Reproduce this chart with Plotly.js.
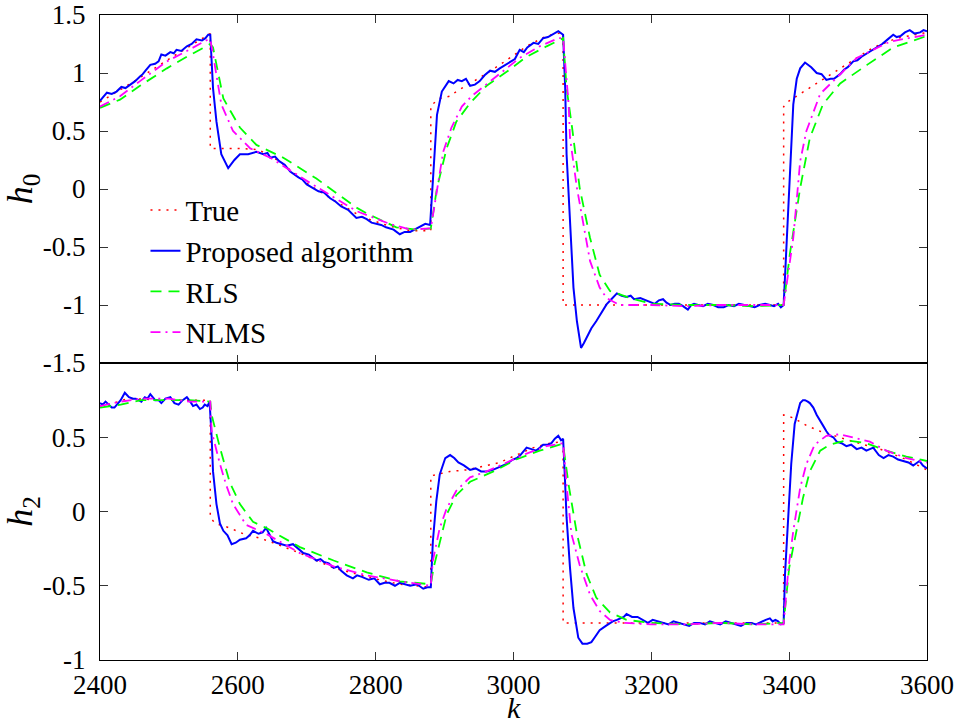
<!DOCTYPE html>
<html>
<head>
<meta charset="utf-8">
<script src="https://cdn.plot.ly/plotly-3.0.1.min.js"></script>
<style>html,body{margin:0;padding:0;background:#fff;}#chart{width:960px;height:727px;}</style>
</head>
<body>
<div id="chart"></div>
<script>
// ---------- h0 (top panel) ----------
const kTrue0 = [2400,2450,2500,2530,2560,2560,2600,2630,2660,2700,2740,2780,2820,2850,2880,2880,2893,2908,2917,2951,2980,3019,3048,3072,3072,3392,3392,3400,3445,3474,3522,3556,3600];
const hTrue0 = [0.75,0.93,1.12,1.23,1.34,0.35,0.35,0.34,0.24,0.05,-0.10,-0.24,-0.32,-0.36,-0.36,0.72,0.78,0.80,0.84,0.96,1.07,1.23,1.32,1.35,-1.0,-1.0,0.71,0.76,0.93,1.04,1.22,1.30,1.35];

const kProp0 = [2400,2405,2410,2417,2424,2431,2437,2444,2451,2458,2462,2466,2473,2480,2485,2489,2495,2502,2507,2511,2518,2526,2533,2540,2548,2553,2557,2560,2564,2569,2576,2586,2595,2603,2615,2627,2632,2637,2643,2647,2654,2660,2668,2676,2688,2694,2700,2708,2717,2725,2734,2742,2750,2760,2772,2780,2787,2794,2800,2808,2815,2826,2835,2842,2850,2857,2864,2872,2879,2884,2889,2896,2906,2913,2919,2925,2931,2937,2944,2951,2958,2966,2973,2980,2988,2995,3002,3009,3015,3020,3029,3036,3043,3050,3058,3065,3072,3075,3077,3082,3087,3092,3098,3102,3106,3113,3120,3128,3135,3142,3150,3157,3164,3170,3175,3184,3193,3199,3205,3211,3217,3222,3228,3234,3240,3246,3253,3258,3262,3268,3275,3282,3290,3297,3305,3312,3320,3327,3335,3342,3350,3357,3365,3372,3378,3384,3388,3392,3396,3401,3406,3411,3416,3423,3428,3432,3440,3447,3454,3460,3465,3470,3474,3480,3485,3493,3499,3505,3513,3522,3528,3535,3543,3551,3556,3562,3568,3575,3582,3590,3595,3600];
const hProp0 = [0.76,0.80,0.83,0.82,0.84,0.88,0.87,0.90,0.93,0.97,0.99,1.02,1.07,1.08,1.10,1.16,1.15,1.18,1.17,1.20,1.19,1.23,1.25,1.29,1.28,1.30,1.33,1.33,0.87,0.58,0.30,0.18,0.25,0.30,0.30,0.32,0.31,0.30,0.31,0.27,0.28,0.24,0.21,0.15,0.10,0.08,0.04,0.01,-0.02,-0.03,-0.08,-0.11,-0.15,-0.18,-0.25,-0.24,-0.26,-0.29,-0.30,-0.31,-0.33,-0.35,-0.39,-0.37,-0.37,-0.35,-0.33,-0.30,-0.31,0.21,0.64,0.84,0.93,0.91,0.94,0.93,0.95,0.89,0.90,0.93,0.98,1.02,1.01,1.04,1.07,1.10,1.12,1.20,1.18,1.22,1.26,1.25,1.30,1.31,1.34,1.36,1.33,0.87,0.30,-0.28,-0.85,-1.14,-1.37,-1.33,-1.28,-1.20,-1.14,-1.06,-0.995,-0.95,-0.90,-0.92,-0.93,-0.92,-0.95,-0.94,-0.96,-0.98,-0.99,-0.96,-0.95,-0.98,-1.00,-0.99,-0.99,-1.01,-1.04,-1.00,-0.99,-1.00,-1.01,-0.99,-1.00,-1.02,-1.02,-1.00,-1.01,-0.99,-1.00,-1.01,-1.02,-1.00,-0.99,-1.00,-1.01,-0.99,-1.02,-1.00,-0.50,0.01,0.73,0.95,1.04,1.09,1.07,1.05,1.00,0.99,0.94,0.95,0.95,0.97,0.99,1.03,1.05,1.10,1.11,1.14,1.17,1.20,1.23,1.25,1.29,1.33,1.31,1.32,1.35,1.37,1.34,1.35,1.37,1.36];

const kRls0 = [2400,2429,2458,2497,2526,2557,2560,2564,2579,2603,2627,2666,2714,2772,2787,2830,2860,2880,2889,2903,2917,2937,2961,2990,3019,3048,3067,3072,3077,3085,3096,3111,3125,3140,3150,3169,3200,3250,3300,3350,3392,3401,3416,3430,3449,3474,3513,3551,3600];
const hRls0 = [0.70,0.77,0.89,1.04,1.14,1.24,1.25,1.22,0.78,0.53,0.38,0.27,0.09,-0.16,-0.21,-0.33,-0.35,-0.34,0.01,0.35,0.58,0.74,0.89,1.01,1.14,1.23,1.29,1.30,0.87,0.53,0.01,-0.42,-0.74,-0.88,-0.90,-0.94,-0.99,-1.00,-1.00,-1.01,-1.00,-0.56,0.01,0.44,0.73,0.91,1.07,1.22,1.32];

const kNlms0 = [2400,2429,2458,2497,2526,2557,2560,2564,2576,2593,2618,2647,2700,2772,2820,2850,2880,2889,2898,2910,2925,2939,2961,2990,3009,3038,3065,3072,3080,3082,3092,3101,3111,3125,3135,3154,3200,3250,3300,3350,3392,3406,3416,3425,3445,3469,3498,3546,3600];
const hNlms0 = [0.71,0.80,0.93,1.10,1.19,1.29,1.29,1.16,0.73,0.50,0.35,0.27,0.07,-0.19,-0.30,-0.35,-0.34,0.01,0.32,0.53,0.71,0.80,0.90,1.04,1.13,1.23,1.30,1.30,0.73,0.44,0.01,-0.28,-0.62,-0.85,-0.94,-1.00,-1.00,-1.01,-1.00,-1.00,-1.00,-0.42,0.24,0.50,0.82,0.96,1.13,1.27,1.33];

// ---------- h2 (bottom panel) ----------
const kTrue2 = [2400,2420,2440,2500,2560,2560,2567,2588,2608,2632,2651,2690,2739,2787,2835,2880,2880,2908,2932,2980,3004,3029,3053,3072,3072,3392,3392,3406,3425,3445,3459,3493,3532,3570,3600];
const hTrue2 = [0.71,0.73,0.76,0.75,0.75,-0.04,-0.08,-0.11,-0.15,-0.18,-0.21,-0.28,-0.38,-0.44,-0.49,-0.51,0.24,0.27,0.28,0.33,0.38,0.43,0.46,0.47,-0.75,-0.75,0.65,0.63,0.58,0.54,0.52,0.47,0.42,0.35,0.28];

const kProp2 = [2400,2404,2408,2413,2417,2421,2425,2430,2436,2442,2448,2452,2456,2460,2465,2469,2473,2477,2480,2485,2489,2495,2502,2508,2514,2520,2526,2531,2535,2540,2545,2549,2552,2556,2559,2562,2564,2569,2574,2579,2585,2591,2597,2603,2612,2617,2622,2630,2636,2641,2646,2651,2656,2662,2671,2680,2688,2695,2703,2714,2720,2725,2732,2739,2745,2750,2758,2767,2773,2780,2790,2798,2806,2813,2820,2828,2835,2843,2850,2860,2869,2875,2880,2883,2888,2893,2901,2908,2914,2920,2928,2937,2945,2953,2961,2970,2980,2990,2999,3005,3010,3019,3026,3033,3038,3043,3050,3055,3060,3065,3069,3072,3074,3077,3082,3087,3094,3100,3107,3113,3119,3125,3134,3144,3150,3155,3160,3164,3172,3180,3187,3195,3202,3210,3217,3225,3232,3240,3247,3255,3262,3270,3278,3285,3292,3300,3308,3315,3322,3330,3338,3345,3352,3360,3366,3372,3376,3380,3384,3388,3392,3394,3399,3403,3408,3416,3420,3423,3427,3430,3435,3440,3449,3454,3459,3464,3469,3476,3483,3490,3498,3505,3512,3517,3522,3530,3537,3544,3551,3558,3566,3573,3580,3585,3589,3594,3600];
const hProp2 = [0.73,0.72,0.74,0.72,0.70,0.70,0.72,0.75,0.80,0.77,0.76,0.76,0.75,0.74,0.77,0.76,0.79,0.77,0.75,0.75,0.73,0.76,0.77,0.73,0.72,0.75,0.77,0.74,0.71,0.72,0.69,0.70,0.72,0.71,0.74,0.50,0.27,0.05,-0.08,-0.13,-0.16,-0.22,-0.21,-0.19,-0.18,-0.16,-0.13,-0.15,-0.14,-0.11,-0.16,-0.20,-0.21,-0.22,-0.23,-0.22,-0.25,-0.28,-0.29,-0.33,-0.32,-0.34,-0.35,-0.38,-0.37,-0.40,-0.43,-0.45,-0.43,-0.44,-0.46,-0.45,-0.49,-0.48,-0.48,-0.50,-0.48,-0.49,-0.50,-0.49,-0.52,-0.51,-0.51,-0.20,0.07,0.25,0.36,0.38,0.36,0.33,0.31,0.28,0.29,0.27,0.27,0.28,0.30,0.32,0.35,0.36,0.38,0.43,0.42,0.41,0.43,0.45,0.45,0.46,0.49,0.51,0.48,0.49,0.29,-0.04,-0.38,-0.65,-0.85,-0.89,-0.89,-0.88,-0.84,-0.80,-0.77,-0.74,-0.73,-0.72,-0.71,-0.69,-0.71,-0.71,-0.73,-0.75,-0.73,-0.74,-0.75,-0.76,-0.74,-0.75,-0.76,-0.77,-0.75,-0.75,-0.76,-0.74,-0.75,-0.76,-0.74,-0.75,-0.76,-0.77,-0.75,-0.75,-0.76,-0.74,-0.73,-0.72,-0.74,-0.73,-0.74,-0.76,-0.75,-0.42,-0.02,0.32,0.59,0.73,0.75,0.75,0.74,0.73,0.70,0.65,0.58,0.54,0.51,0.50,0.47,0.46,0.44,0.45,0.42,0.43,0.41,0.42,0.43,0.38,0.36,0.38,0.37,0.35,0.34,0.33,0.31,0.33,0.34,0.31,0.29];

const kRls2 = [2400,2430,2460,2500,2530,2560,2562,2574,2588,2603,2622,2641,2690,2739,2787,2835,2880,2884,2893,2903,2917,2937,2971,3004,3038,3067,3072,3080,3092,3106,3120,3140,3164,3200,3250,3300,3350,3392,3400,3411,3420,3430,3445,3459,3483,3512,3541,3570,3600];
const hRls2 = [0.70,0.72,0.75,0.75,0.75,0.74,0.65,0.43,0.20,0.05,-0.07,-0.11,-0.24,-0.33,-0.41,-0.47,-0.49,-0.38,-0.20,-0.02,0.11,0.20,0.27,0.35,0.41,0.45,0.45,0.18,-0.15,-0.42,-0.58,-0.68,-0.73,-0.75,-0.76,-0.75,-0.76,-0.75,-0.38,-0.13,0.09,0.27,0.41,0.45,0.48,0.46,0.41,0.37,0.34];

const kNlms2 = [2400,2430,2460,2500,2530,2560,2562,2574,2583,2593,2612,2641,2690,2739,2787,2835,2880,2883,2893,2903,2917,2937,2961,2995,3019,3048,3072,3077,3084,3096,3111,3125,3140,3160,3200,3250,3300,3350,3392,3399,3406,3416,3425,3437,3454,3474,3493,3517,3541,3570,3600];
const hNlms2 = [0.71,0.74,0.76,0.76,0.74,0.74,0.54,0.32,0.18,0.05,-0.09,-0.15,-0.28,-0.37,-0.43,-0.47,-0.50,-0.33,-0.11,0.02,0.14,0.23,0.27,0.34,0.39,0.44,0.46,0.18,-0.15,-0.36,-0.56,-0.67,-0.73,-0.75,-0.76,-0.76,-0.75,-0.76,-0.76,-0.38,-0.13,0.16,0.32,0.45,0.51,0.52,0.50,0.47,0.41,0.36,0.33];

const xTicks = [2400,2600,2800,3000,3200,3400,3600];
const y0Ticks = [1.5,1,0.5,0,-0.5,-1,-1.5];
const y0Labels = ['1.5','1','0.5','0','-0.5','-1','-1.5'];
const y2Ticks = [0.5,0,-0.5,-1];
const y2Labels = ['0.5','0','-0.5','-1'];
const seriesNames = ['True','Proposed algorithm','RLS','NLMS'];

// ---------- styles ----------
const FONT = 'Liberation Serif';
const styles = [
  {color:'#ff0000', width:1.5, dash:'2px,6px'},
  {color:'#0000ff', width:2, dash:'solid'},
  {color:'#00ff00', width:1.8, dash:'11px,7px'},
  {color:'#ff00ff', width:1.8, dash:'10px,5px,2px,5px'}
];

const topData = [[kTrue0,hTrue0],[kProp0,hProp0],[kRls0,hRls0],[kNlms0,hNlms0]];
const botData = [[kTrue2,hTrue2],[kProp2,hProp2],[kRls2,hRls2],[kNlms2,hNlms2]];

const traces = [];
topData.forEach((d,i)=>{
  traces.push({x:d[0], y:d[1], type:'scatter', mode:'lines', name:seriesNames[i],
    xaxis:'x2', yaxis:'y2', line:{color:styles[i].color, width:styles[i].width, dash:styles[i].dash},
    showlegend:true, hoverinfo:'skip'});
});
botData.forEach((d,i)=>{
  traces.push({x:d[0], y:d[1], type:'scatter', mode:'lines', name:seriesNames[i],
    xaxis:'x', yaxis:'y', line:{color:styles[i].color, width:styles[i].width, dash:styles[i].dash},
    showlegend:false, hoverinfo:'skip'});
});

const axisCommon = {
  showline:true, linecolor:'#000', linewidth:1.2, mirror:'ticks',
  ticks:'inside', ticklen:8, tickcolor:'#333', tickwidth:1,
  showgrid:false, zeroline:false, ticklabeloverflow:'allow',
  tickfont:{family:FONT, size:27, color:'#000'}
};
const split = 297/645;
const MT = 15, MB = 67, H = 727;
const plotH = H - MT - MB;

const layout = {
  width:960, height:H,
  margin:{l:100, r:33, t:MT, b:MB},
  paper_bgcolor:'#fff', plot_bgcolor:'#fff',
  font:{family:FONT, color:'#000'},
  showlegend:true,
  legend:{x:0.055, y:0.737, xanchor:'left', yanchor:'top', bgcolor:'rgba(0,0,0,0)',
    borderwidth:0, font:{family:FONT, size:29, color:'#000'}},
  xaxis:Object.assign({}, axisCommon, {anchor:'y', range:[2400,3600], tickvals:xTicks,
    ticktext:xTicks.map(String), ticklabelstandoff:0}),
  xaxis2:Object.assign({}, axisCommon, {anchor:'y2', matches:'x', range:[2400,3600], tickvals:xTicks,
    showticklabels:false}),
  yaxis:Object.assign({}, axisCommon, {anchor:'x', domain:[0, split], range:[-1,1],
    tickvals:y2Ticks, ticktext:y2Labels, ticklabelstandoff:8,
    title:{text:'<i>h</i><sub>2</sub>', font:{family:FONT, size:36}, standoff:0}}),
  yaxis2:Object.assign({}, axisCommon, {anchor:'x2', domain:[split, 1], range:[-1.5,1.5],
    tickvals:y0Ticks, ticktext:y0Labels, ticklabelstandoff:8,
    title:{text:'<i>h</i><sub>0</sub>', font:{family:FONT, size:36}, standoff:0}}),
  annotations:[{text:'<i>k</i>', xref:'paper', yref:'paper', x:0.5, xanchor:'center',
    y:-(H - MB - 1 - (H - 1 - MB + 0)) / plotH - (MB - 1) / plotH, yanchor:'bottom',
    showarrow:false, font:{family:FONT, size:30, color:'#000'}}]
};

Plotly.newPlot('chart', traces, layout, {displayModeBar:false, staticPlot:true});
</script>
</body>
</html>
